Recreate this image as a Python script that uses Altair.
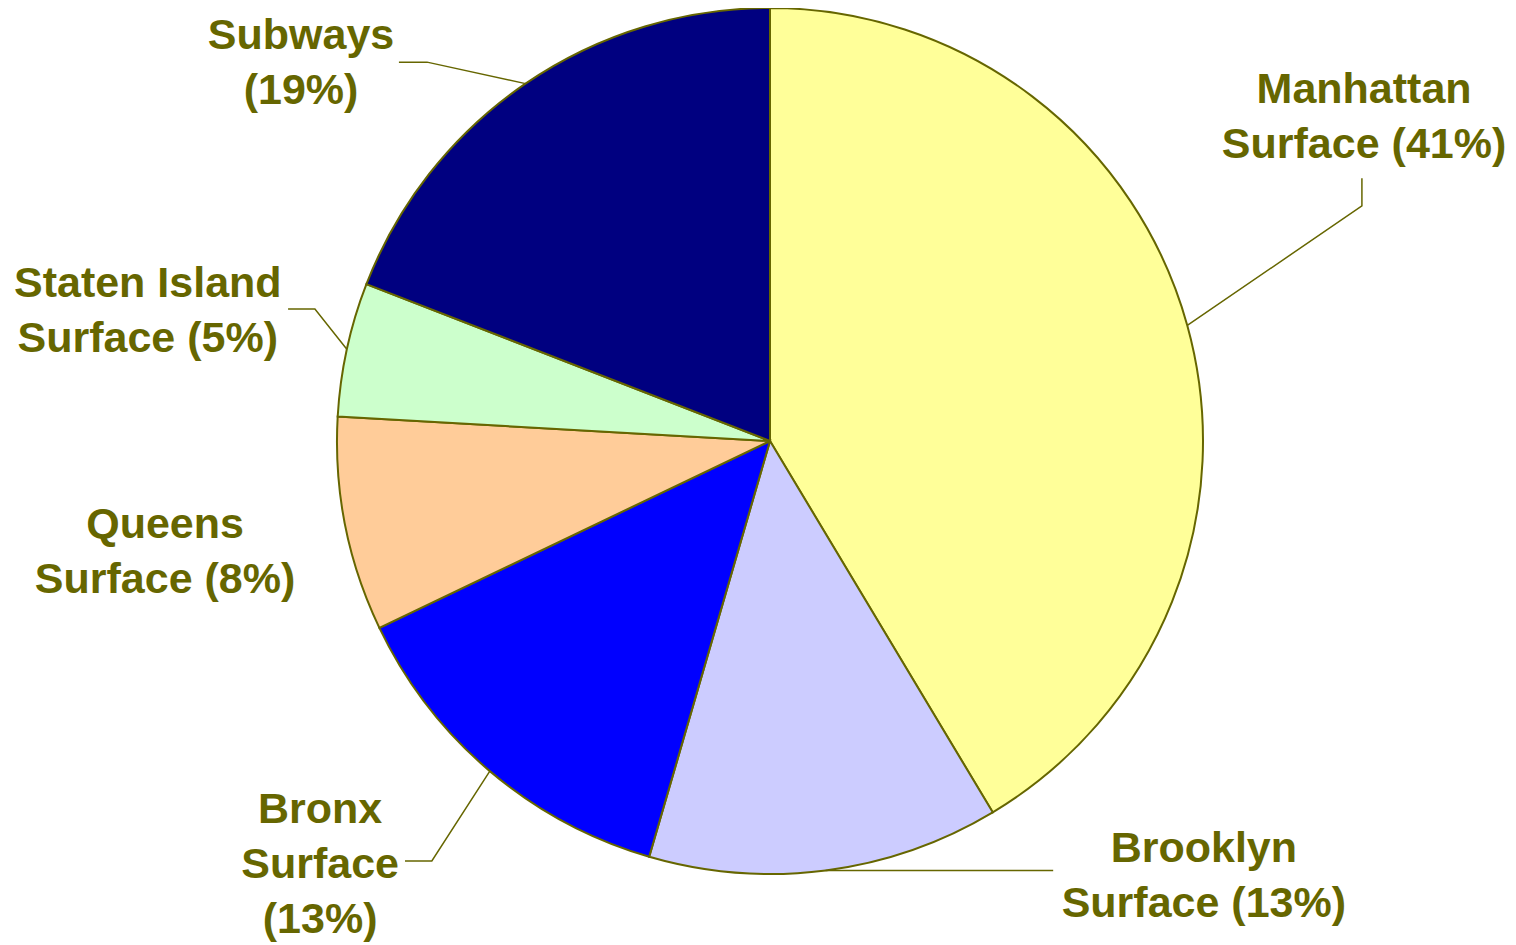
import math
import altair as alt
import pandas as pd

# ---- data ----
categories = ["Manhattan Surface", "Brooklyn Surface", "Bronx Surface",
              "Queens Surface", "Staten Island Surface", "Subways"]
values = [41.4, 13.1, 13.4, 8.0, 5.0, 19.1]
label_lines = [["Manhattan", "Surface ({p}%)"],
               ["Brooklyn", "Surface ({p}%)"],
               ["Bronx", "Surface", "({p}%)"],
               ["Queens", "Surface ({p}%)"],
               ["Staten Island", "Surface ({p}%)"],
               ["Subways", "({p}%)"]]
colors = ["#FFFF99", "#CCCCFF", "#0000FF", "#FFCC99", "#CCFFCC", "#000080"]

# ---- layout (in pie-radius units, centre = 0,0, y up) ----
W, H = 1500, 937
R = 433
X_DOMAIN = [-762 / R, (W - 762) / R]
Y_DOMAIN = [-(H - 433) / R, 433 / R]
LABEL_ANCHOR = {  # text centre x, first-line baseline y
    "Manhattan Surface": (1.372, 0.781),
    "Brooklyn Surface": (1.002, -0.972),
    "Bronx Surface": (-1.039, -0.882),
    "Queens Surface": (-1.397, -0.224),
    "Staten Island Surface": (-1.437, 0.333),
    "Subways": (-1.083, 0.905),
}
LEADER_PTS = {  # elbow / end of each leader line
    "Manhattan Surface": [(1.367, 0.543), (1.367, 0.607)],
    "Brooklyn Surface": [(0.654, -0.992)],
    "Bronx Surface": [(-0.781, -0.970), (-0.843, -0.970)],
    "Staten Island Surface": [(-1.051, 0.305), (-1.113, 0.305)],
    "Subways": [(-0.792, 0.875), (-0.857, 0.875)],
}
OLIVE = "#666600"

total = sum(values)
slices = pd.DataFrame({
    "category": categories,
    "value": values,
    "idx": list(range(len(categories))),
    "cx": [0.0] * len(categories),
    "cy": [0.0] * len(categories),
})

labels = []
lines = []
cum = 0.0
for cat, v, ll in zip(categories, values, label_lines):
    mid = (cum + v / 2) / total * 2 * math.pi
    cum += v
    p = int(round(v))
    text = "\n".join(s.format(p=p) for s in ll)
    ax, ay = LABEL_ANCHOR[cat]
    labels.append({"category": cat, "text": text, "x": ax, "y": ay})
    if cat in LEADER_PTS:
        pts = [(math.sin(mid), math.cos(mid))] + LEADER_PTS[cat]
        for i, (px, py) in enumerate(pts):
            lines.append({"category": cat, "step": i, "x": px, "y": py})

labels_df = pd.DataFrame(labels)
lines_df = pd.DataFrame(lines)

xs = alt.Scale(domain=X_DOMAIN, nice=False, zero=False)
ys = alt.Scale(domain=Y_DOMAIN, nice=False, zero=False)

pie = alt.Chart(slices).mark_arc(
    outerRadius=R, stroke=OLIVE, strokeWidth=2
).encode(
    x=alt.X("cx:Q", scale=xs, axis=None),
    y=alt.Y("cy:Q", scale=ys, axis=None),
    theta=alt.Theta("value:Q", stack=True),
    order=alt.Order("idx:Q"),
    color=alt.Color("category:N", scale=alt.Scale(domain=categories, range=colors),
                    legend=None),
)

leaders = alt.Chart(lines_df).mark_line(color=OLIVE, strokeWidth=1.5).encode(
    x=alt.X("x:Q", scale=xs, axis=None),
    y=alt.Y("y:Q", scale=ys, axis=None),
    detail="category:N",
    order=alt.Order("step:Q"),
)

text = alt.Chart(labels_df).mark_text(
    align="center", baseline="alphabetic", font="Liberation Sans",
    fontWeight="bold", fontSize=43, lineHeight=55, color=OLIVE, lineBreak="\n",
).encode(
    x=alt.X("x:Q", scale=xs, axis=None),
    y=alt.Y("y:Q", scale=ys, axis=None),
    text="text:N",
)

chart = alt.layer(pie, leaders, text).properties(
    width=W, height=H, padding=0, autosize=alt.AutoSizeParams(type="none")
).configure_view(strokeWidth=0)

chart.save("out.html", embed_options={"renderer": "svg", "actions": False})
